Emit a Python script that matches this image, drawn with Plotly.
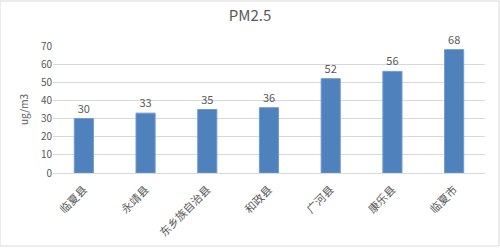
import plotly.graph_objects as go

categories = ["临夏县", "永靖县", "东乡族自治县", "和政县", "广河县", "康乐县", "临夏市"]
values = [30, 33, 35, 36, 52, 56, 68]
y_ticks = [0, 10, 20, 30, 40, 50, 60, 70]

font_family = "Microsoft YaHei, Noto Sans CJK SC, sans-serif"

fig = go.Figure(go.Bar(
    x=categories, y=values,
    marker=dict(color="#4f81bd", line=dict(color="#6f9bd0", width=1)),
    text=[str(v) for v in values], textposition="outside",
    textfont=dict(size=11, color="#595959"),
    cliponaxis=False,
    width=0.31,
))

fig.update_layout(
    width=500, height=248,
    margin=dict(l=53, r=15, t=46, b=75),
    paper_bgcolor="white", plot_bgcolor="white",
    font=dict(family=font_family, color="#595959"),
    title=dict(text="PM2.5", x=0.5, xanchor="center", y=0.935, yanchor="middle",
               font=dict(size=15, color="#595959")),
    showlegend=False,
    shapes=[dict(type="rect", xref="paper", yref="paper",
                 x0=-53/432, x1=1+14/432, y0=-73/127, y1=1+45/127,
                 line=dict(color="#d9d9d9", width=1))],
)
fig.update_xaxes(tickangle=-45, tickfont=dict(size=11, color="#595959"),
                 ticklabelstandoff=5, automargin=False,
                 showline=True, linecolor="#d9d9d9", ticks="", showgrid=False)
fig.update_yaxes(range=[0, 70], tickvals=y_ticks, tickfont=dict(size=10, color="#595959"),
                 gridcolor="#d9d9d9", showline=False, zeroline=False, ticks="",
                 automargin=False,
                 title=dict(text="ug/m3", font=dict(size=10, color="#595959"), standoff=10))

fig.write_html("out.html")
